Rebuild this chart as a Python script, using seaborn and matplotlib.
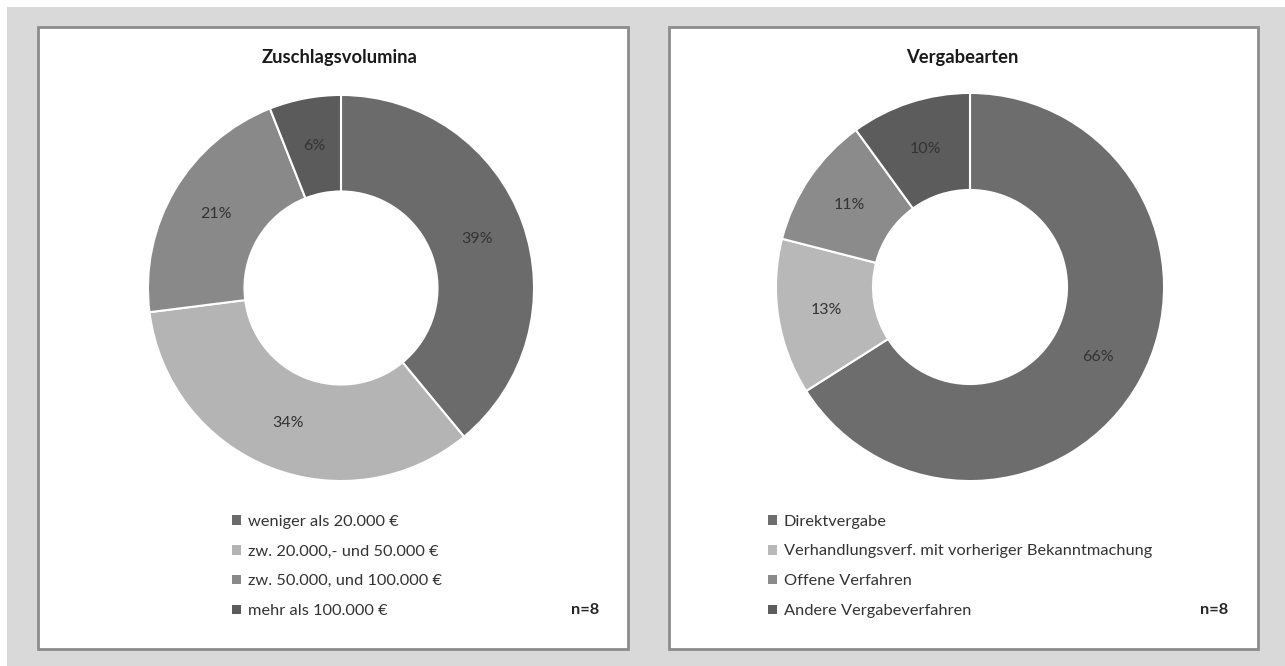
import matplotlib
matplotlib.use('Agg')
import matplotlib.pyplot as plt
import matplotlib.patches as mpatches
import seaborn as sns

# == Datos

vol_labels = ['weniger als 20.000 €', 'zw. 20.000,- und 50.000 €',
              'zw. 50.000, und 100.000 €', 'mehr als 100.000 €']
vol_values = [39, 34, 21, 6]
vol_colors = ['#6b6b6b', '#b4b4b4', '#898989', '#5b5b5b']

art_labels = ['Direktvergabe', 'Verhandlungsverf. mit vorheriger Bekanntmachung',
              'Offene Verfahren', 'Andere Vergabeverfahren']
art_values = [66, 13, 11, 10]
art_colors = ['#6d6d6d', '#b8b8b8', '#8b8b8b', '#5c5c5c']

titles = ['Zuschlagsvolumina', 'Vergabearten']
n_text = 'n=8'

# == Estilo

sns.set_theme(style='white')
plt.rcParams['font.family'] = ['Lato', 'DejaVu Sans']

W, H = 1285, 666
fig = plt.figure(figsize=(W / 100, H / 100), dpi=100)
fig.patch.set_facecolor('white')

def fx(px):
    return px / W

def fy(py):
    return 1 - py / H

# fondo gris
fig.patches.append(mpatches.Rectangle((fx(7), 0), 1 - fx(7), fy(7), transform=fig.transFigure,
                                      facecolor='#d9d9d9', edgecolor='none', zorder=-2))

# paneles (x0, x1) en pixeles
paneles = [(38, 628), (669, 1258)]
for x0, x1 in paneles:
    fig.patches.append(mpatches.Rectangle((fx(x0), fy(649)), fx(x1 - x0), (649 - 27) / H,
                                          transform=fig.transFigure, facecolor='white',
                                          edgecolor='#8c8c8c', linewidth=2, zorder=-1))

def donut(cx, cy, r, values, colors):
    ax = fig.add_axes([fx(cx - r), fy(cy + r), fx(2 * r), 2 * r / H])
    ax.pie(values, colors=colors, radius=1, startangle=90, counterclock=False,
           autopct=lambda p: f'{p:.0f}%', pctdistance=0.75,
           wedgeprops=dict(width=0.5, edgecolor='white', linewidth=1.5),
           textprops=dict(color='#333333', fontsize=11.5))
    # pie fija los límites en ±1.25, se reajustan al radio
    ax.set_xlim(-1.005, 1.005)
    ax.set_ylim(-1.005, 1.005)
    ax.axis('off')
    return ax

donut(341, 288, 194, vol_values, vol_colors)
donut(970, 287, 195, art_values, art_colors)

# titulos
fig.text(fx(340), fy(58), titles[0], ha='center', va='center', fontsize=13.2,
         fontweight='bold', color='#1a1a1a')
fig.text(fx(962), fy(58), titles[1], ha='center', va='center', fontsize=13.2,
         fontweight='bold', color='#1a1a1a')

# leyendas
def leyenda(x_px, labels, colors):
    handles = [mpatches.Patch(facecolor=c, edgecolor='none', label=l)
               for l, c in zip(labels, colors)]
    leg = fig.legend(handles=handles, loc='upper left',
                     bbox_to_anchor=(fx(x_px), fy(508)), frameon=False,
                     fontsize=11.8, handlelength=0.55, handleheight=0.55,
                     handletextpad=0.45, labelspacing=0.97, borderaxespad=0)
    for t in leg.get_texts():
        t.set_color('#333333')

leyenda(225, vol_labels, vol_colors)
leyenda(761, art_labels, art_colors)

fig.text(fx(585), fy(610), n_text, ha='center', va='center', fontsize=11.8,
         fontweight='bold', color='#262626')
fig.text(fx(1214), fy(610), n_text, ha='center', va='center', fontsize=11.8,
         fontweight='bold', color='#262626')

plt.savefig('out.png', dpi=100)
